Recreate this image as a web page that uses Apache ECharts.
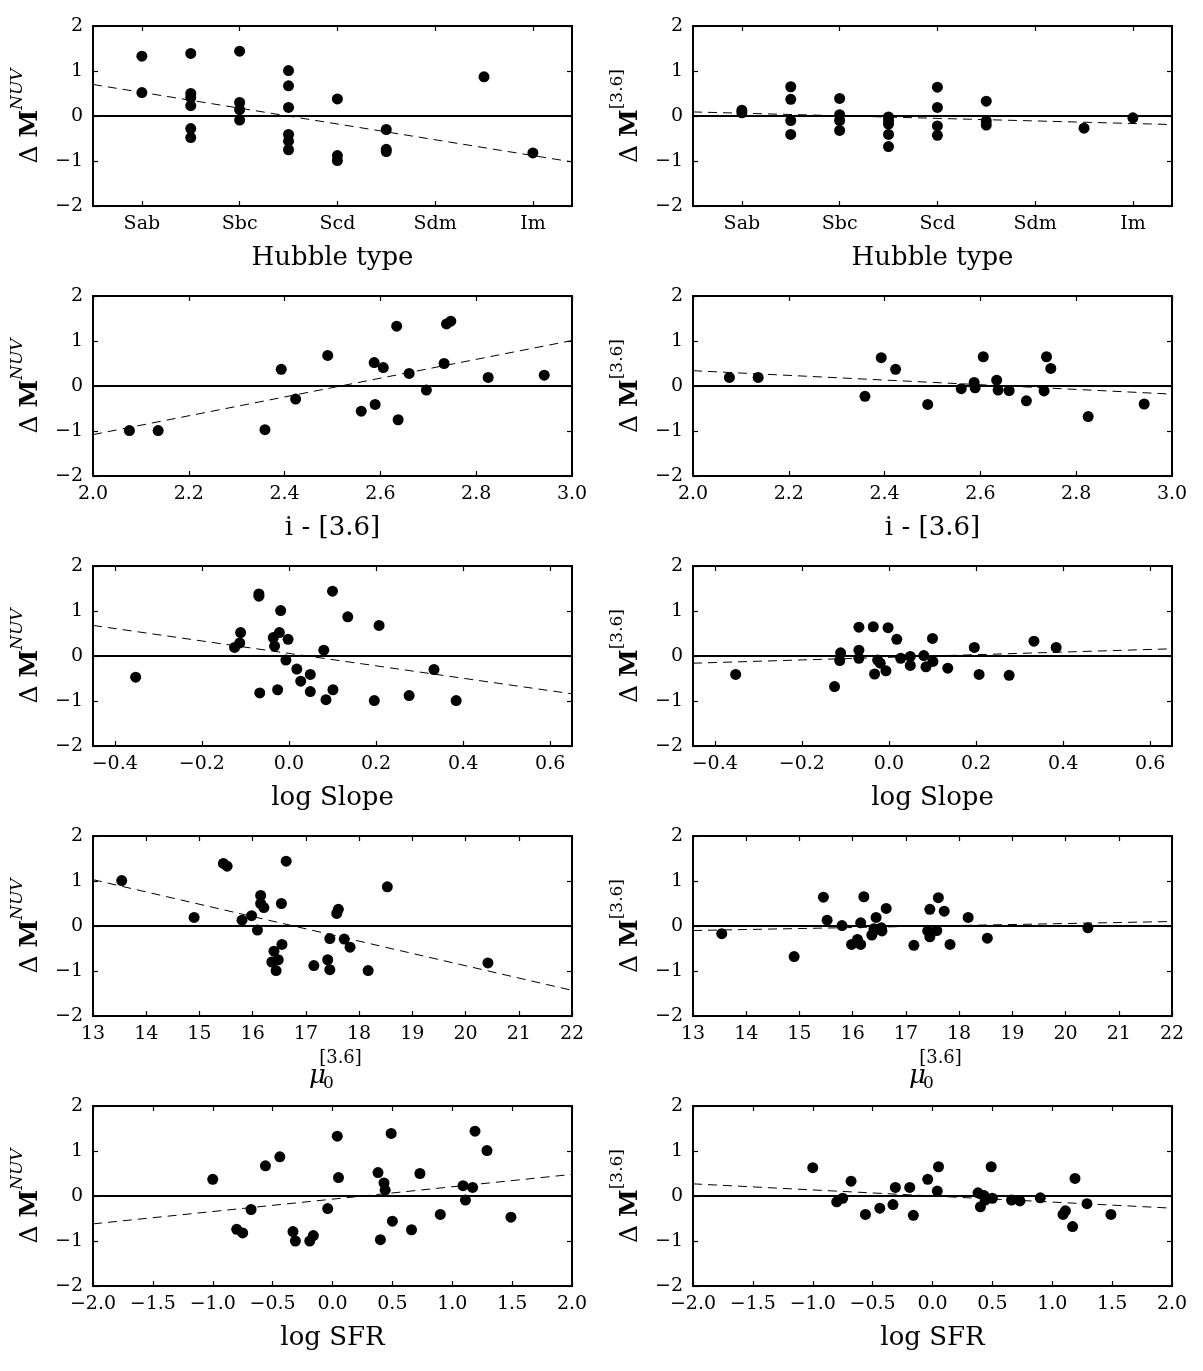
<!DOCTYPE html>
<html><head><meta charset="utf-8">
<script src="https://cdn.jsdelivr.net/npm/echarts@6/dist/echarts.min.js"></script>
<style>html,body{margin:0;padding:0;background:#fff}#c{width:1203px;height:1371px}</style>
</head><body><div id="c"></div>
<script>
// ---- tick labels ----
var hubbleTickValues = [2, 4, 6, 8, 10];
var hubbleTickLabels = ['Sab', 'Sbc', 'Scd', 'Sdm', 'Im'];
var slopeTickValues = [-0.4, -0.2, 0.0, 0.2, 0.4, 0.6];

// ---- Hubble type panels ----
var hubbleNUV_T  = [2,2, 3,3,3,3,3,3, 4,4,4,4, 5,5,5,5,5,5, 6,6,6, 7,7,7, 9, 10];
var hubbleNUV_dM = [1.33,0.52, 1.39,0.50,0.41,0.23,-0.28,-0.48, 1.44,0.30,0.14,-0.09, 1.01,0.67,0.19,-0.41,-0.56,-0.75, 0.38,-0.88,-0.99, -0.30,-0.74,-0.79, 0.87, -0.82];
var hubble36_T   = [2,2, 3,3,3,3, 4,4,4,4, 5,5,5,5,5, 6,6,6,6, 7,7,7, 9, 10];
var hubble36_dM  = [0.13,0.07, 0.65,0.37,-0.10,-0.41, 0.39,0.03,-0.10,-0.32, -0.02,-0.10,-0.18,-0.41,-0.68, 0.64,0.19,-0.22,-0.43, 0.33,-0.11,-0.20, -0.27, -0.04];

// ---- i - [3.6] panels ----
var iColor  = [2.076,2.136,2.359,2.393,2.423,2.490,2.560,2.587,2.589,2.606,2.634,2.637,2.660,2.696,2.733,2.738,2.747,2.825,2.942];
var iNUV_dM = [-0.99,-0.99,-0.97,0.37,-0.29,0.68,-0.56,0.52,-0.41,0.41,1.33,-0.75,0.28,-0.09,0.50,1.38,1.44,0.19,0.24];
var i36_dM  = [0.19,0.19,-0.23,0.63,0.37,-0.41,-0.06,0.08,-0.04,0.65,0.13,-0.09,-0.10,-0.33,-0.11,0.65,0.39,-0.68,-0.40];

// ---- log Slope panels ----
var slopeNUV_x  = [-0.352,-0.125,-0.113,-0.111,-0.069,-0.069,-0.067,-0.036,-0.033,-0.026,-0.022,-0.019,-0.007,-0.002,0.018,0.027,0.049,0.049,0.080,0.085,0.100,0.101,0.135,0.196,0.207,0.276,0.333,0.384];
var slopeNUV_dM = [-0.47,0.19,0.29,0.52,1.38,1.33,-0.82,0.41,0.22,-0.75,0.52,1.01,-0.09,0.37,-0.29,-0.56,-0.41,-0.79,0.13,-0.97,1.44,-0.75,0.87,-0.99,0.68,-0.88,-0.30,-0.99];
var slope36_x   = [-0.352,-0.125,-0.113,-0.111,-0.069,-0.069,-0.069,-0.036,-0.033,-0.026,-0.020,-0.007,-0.002,0.018,0.027,0.049,0.049,0.080,0.085,0.100,0.101,0.135,0.196,0.207,0.276,0.333,0.384];
var slope36_dM  = [-0.41,-0.68,-0.10,0.07,0.13,-0.05,0.64,0.65,-0.40,-0.09,-0.16,-0.33,0.63,0.37,-0.05,-0.01,-0.21,0.01,-0.24,0.39,-0.12,-0.27,0.19,-0.41,-0.43,0.33,0.19];

// ---- mu0 panels ----
var mu0      = [13.54,14.90,15.45,15.52,15.80,15.98,16.09,16.15,16.15,16.21,16.36,16.40,16.44,16.48,16.54,16.55,16.63,17.15,17.41,17.45,17.45,17.58,17.61,17.72,17.83,18.17,18.53,20.42];
var muNUV_dM = [1.01,0.19,1.39,1.33,0.13,0.23,-0.09,0.68,0.50,0.41,-0.80,-0.56,-0.99,-0.75,0.50,-0.41,1.44,-0.88,-0.75,-0.28,-0.97,0.28,0.37,-0.29,-0.47,-0.99,0.87,-0.82];
var mu36_dM  = [-0.17,-0.68,0.64,0.13,0.01,-0.41,-0.30,0.07,-0.41,0.65,-0.20,-0.06,0.19,-0.07,-0.04,-0.11,0.39,-0.43,-0.11,0.37,-0.24,-0.10,0.63,0.33,-0.41,0.19,-0.27,-0.04];

// ---- log SFR panels ----
var sfr       = [-1.00,-0.80,-0.75,-0.68,-0.56,-0.44,-0.33,-0.31,-0.19,-0.16,-0.04,0.04,0.05,0.38,0.40,0.43,0.44,0.49,0.50,0.66,0.73,0.90,1.09,1.11,1.17,1.19,1.29,1.49];
var sfrNUV_dM = [0.37,-0.74,-0.82,-0.30,0.67,0.87,-0.79,-1.00,-1.00,-0.88,-0.28,1.33,0.41,0.52,-0.97,0.29,0.13,1.39,-0.56,-0.75,0.50,-0.41,0.23,-0.09,0.19,1.44,1.01,-0.47];
var sfr36_dM  = [0.63,-0.13,-0.05,0.33,-0.41,-0.27,-0.19,0.19,0.19,-0.43,0.37,0.11,0.65,0.07,-0.24,0.01,-0.09,0.65,-0.05,-0.09,-0.11,-0.04,-0.41,-0.33,-0.68,0.39,-0.17,-0.41];

// ---- linear fits [intercept, slope] ----
var fitNUV_hubble = [0.876, -0.1755];
var fit36_hubble  = [0.119, -0.0286];
var fitNUV_i      = [-5.26, 2.09];
var fit36_i       = [1.38, -0.52];
var fitNUV_slope  = [0.058, -1.382];
var fit36_slope   = [-0.029, 0.291];
var fitNUV_mu     = [4.583, -0.2733];
var fit36_mu      = [-0.389, 0.0222];
var fitNUV_sfr    = [-0.07, 0.275];
var fit36_sfr     = [0.0, -0.135];

var FONT = 'DejaVu Serif';
function fmtNum(d) { return function (v) { return (d ? v.toFixed(d) : String(Math.round(v))).replace('-', '\u2212'); }; }
function hubbleFmt(v) { var k = hubbleTickValues.indexOf(Math.round(v)); return k >= 0 ? hubbleTickLabels[k] : ''; }

var rowDefs = [
  {xr:[1,10.8], custom:hubbleTickValues, fmt:hubbleFmt, name:'Hubble type',
   L:{x:hubbleNUV_T,y:hubbleNUV_dM,fit:fitNUV_hubble}, R:{x:hubble36_T,y:hubble36_dM,fit:fit36_hubble}},
  {xr:[2,3], interval:0.2, fmt:fmtNum(1), name:'i - [3.6]',
   L:{x:iColor,y:iNUV_dM,fit:fitNUV_i}, R:{x:iColor,y:i36_dM,fit:fit36_i}},
  {xr:[-0.45,0.65], custom:slopeTickValues, fmt:fmtNum(1), name:'log Slope',
   L:{x:slopeNUV_x,y:slopeNUV_dM,fit:fitNUV_slope}, R:{x:slope36_x,y:slope36_dM,fit:fit36_slope}},
  {xr:[13,22], interval:1, fmt:fmtNum(0), name:'',
   L:{x:mu0,y:muNUV_dM,fit:fitNUV_mu}, R:{x:mu0,y:mu36_dM,fit:fit36_mu}},
  {xr:[-2,2], interval:0.5, fmt:fmtNum(1), name:'log SFR',
   L:{x:sfr,y:sfrNUV_dM,fit:fitNUV_sfr}, R:{x:sfr,y:sfr36_dM,fit:fit36_sfr}}
];

var lefts = [93, 693], tops = [26, 296, 566, 836, 1106], W = 479, H = 180;
var grid = [], xAxis = [], yAxis = [], series = [], graphic = [];
function tickStyle(custom) {
  var t = {inside:true, length:5, lineStyle:{color:'#000', width:1.2}};
  if (custom) t.customValues = custom;
  return t;
}
var noLine = {show:false, onZero:false};
var yRich = {
  d:{fontFamily:FONT, fontSize:25, color:'#000', lineHeight:34, verticalAlign:'bottom'},
  m:{fontFamily:FONT, fontSize:25, fontWeight:'bold', color:'#000', lineHeight:34, verticalAlign:'bottom'},
  s:{fontFamily:FONT, fontSize:17, fontStyle:'italic', color:'#000', lineHeight:34, verticalAlign:'top'},
  t:{fontFamily:FONT, fontSize:17, color:'#000', lineHeight:34, verticalAlign:'top'}
};

var gi = 0;
rowDefs.forEach(function (rd, r) {
  ['L','R'].forEach(function (side, c) {
    var p = rd[side];
    grid.push({left:lefts[c], top:tops[r], width:W, height:H, show:true, borderColor:'#000', borderWidth:2, backgroundColor:'transparent'});
    function xbase(pos) {
      var a = {gridIndex:gi, type:'value', min:rd.xr[0], max:rd.xr[1], position:pos,
        axisLine:noLine, splitLine:{show:false}, axisTick:tickStyle(rd.custom)};
      if (rd.interval) a.interval = rd.interval;
      return a;
    }
    var xb = xbase('bottom');
    xb.axisLabel = {fontFamily:FONT, fontSize:19, color:'#000', margin:9, formatter:rd.fmt, showMinLabel:true, showMaxLabel:true};
    if (rd.custom) xb.axisLabel.customValues = rd.custom;
    xb.name = rd.name; xb.nameLocation = 'middle'; xb.nameGap = 39;
    xb.nameTextStyle = {fontFamily:FONT, fontSize:26, color:'#000'};
    xAxis.push(xb);
    var xt = xbase('top'); xt.axisLabel = {show:false};
    xAxis.push(xt);

    yAxis.push({gridIndex:gi, type:'value', min:-2, max:2, interval:1, position:'left',
      axisLine:noLine, splitLine:{show:false}, axisTick:tickStyle(null),
      axisLabel:{fontFamily:FONT, fontSize:19, color:'#000', margin:10, formatter:fmtNum(0)},
      name: c === 0 ? '{d|\u0394 }{m|M}{s|NUV}' : '{d|\u0394 }{m|M}{t|[3.6]}',
      nameLocation:'middle', nameGap:50, nameTextStyle:{rich:yRich}});
    yAxis.push({gridIndex:gi, type:'value', min:-2, max:2, interval:1, position:'right',
      axisLine:noLine, splitLine:{show:false}, axisTick:tickStyle(null), axisLabel:{show:false}});

    var xi = 2*gi, yi = 2*gi;
    series.push({type:'line', xAxisIndex:xi, yAxisIndex:yi, data:[[rd.xr[0],0],[rd.xr[1],0]],
      symbol:'none', silent:true, z:2, lineStyle:{color:'#000', width:2}});
    series.push({type:'line', xAxisIndex:xi, yAxisIndex:yi,
      data:[[rd.xr[0], p.fit[0] + p.fit[1]*rd.xr[0]], [rd.xr[1], p.fit[0] + p.fit[1]*rd.xr[1]]],
      symbol:'none', silent:true, z:2, lineStyle:{color:'#000', width:1, type:[9,6]}});
    series.push({type:'scatter', xAxisIndex:xi, yAxisIndex:yi, data:p.x.map(function (v,k) { return [v,p.y[k]]; }),
      symbol:'circle', symbolSize:11, z:3, itemStyle:{color:'#000', opacity:1}});
    gi++;
  });
});

// mu_0^[3.6] axis titles (row 4)
[0,1].forEach(function (c) {
  var cx = lefts[c] + W/2;
  var yb = tops[3] + H;
  graphic.push({type:'text', x:cx - 15, y:yb + 60, style:{text:'\u03bc', font:'italic 26px "DejaVu Serif"', fill:'#000', align:'center', verticalAlign:'middle'}});
  graphic.push({type:'text', x:cx + 8, y:yb + 42, style:{text:'[3.6]', font:'18px "DejaVu Serif"', fill:'#000', align:'center', verticalAlign:'middle'}});
  graphic.push({type:'text', x:cx - 4, y:yb + 68, style:{text:'0', font:'17px "DejaVu Serif"', fill:'#000', align:'center', verticalAlign:'middle'}});
});

var chart = echarts.init(document.getElementById('c'), null, {renderer:'canvas'});
window.chart = chart;
chart.setOption({animation:false, backgroundColor:'#fff', grid:grid, xAxis:xAxis, yAxis:yAxis, series:series, graphic:graphic});
</script></body></html>
